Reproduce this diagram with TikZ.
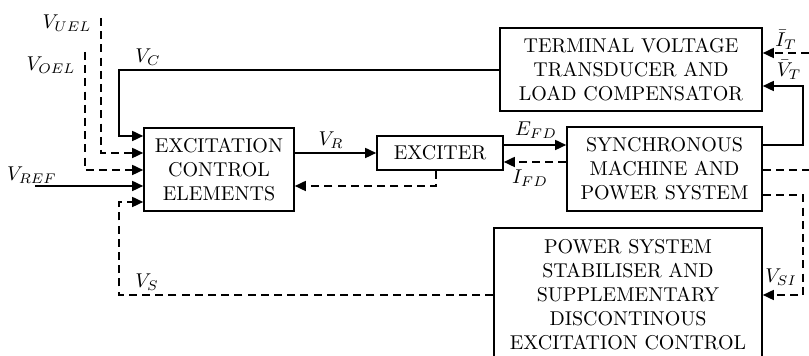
\documentclass[tikz,border=0pt]{standalone}
\usetikzlibrary{arrows.meta}
\begin{document}
\begin{tikzpicture}[x=0.5pt,y=-0.5pt,
  blk/.style={draw,line width=0.8pt,align=center,inner sep=0pt,font=\normalsize},
  sig/.style={line width=0.8pt},
  dsig/.style={line width=0.8pt,dash pattern=on 4pt off 2.6pt},
  tip/.style={-{Triangle[length=5.5pt,width=5pt]}},
  lbl/.style={inner sep=0pt}]
\useasboundingbox (0,0) rectangle (809,356);
% blocks
\node[blk,minimum width=75pt,minimum height=41.5pt] (ece) at (219,169.5) {EXCITATION\\CONTROL\\ELEMENTS};
\node[blk,minimum width=63pt,minimum height=17pt] (exc) at (440,153) {EXCITER};
\node[blk,minimum width=131pt,minimum height=41.5pt] (tvt) at (631,69.5) {TERMINAL VOLTAGE\\TRANSDUCER AND\\LOAD COMPENSATOR};
\node[blk,minimum width=97.5pt,minimum height=42pt] (sm) at (664.5,169) {SYNCHRONOUS\\MACHINE AND\\POWER SYSTEM};
\node[blk,minimum width=134pt,minimum height=67pt] (pss) at (628,295) {POWER SYSTEM\\STABILISER AND\\SUPPLEMENTARY\\DISCONTINOUS\\EXCITATION CONTROL};
% coordinates
\coordinate (uelT) at (101,18);
\coordinate (oelT) at (85,52);
\coordinate (refL) at (35,186);
\coordinate (itR) at (809,53);
\coordinate (smR2) at (809,170);
% V_C
\draw[sig,tip] (tvt.west |- 0,70) -| (119,136) -- (ece.west |- 0,136);
\node[lbl] (vc) at (148,57) {$V_C$};
% V_UEL
\draw[dsig,tip] (uelT) |- (ece.west |- 0,153);
\node[lbl] (vuel) at (67,23) {$V_{UEL}$};
% V_OEL
\draw[dsig,tip] (oelT) |- (ece.west |- 0,170);
\node[lbl] (voel) at (51,65) {$V_{OEL}$};
% V_REF
\draw[sig,tip] (refL) -- (ece.west |- 0,186);
\node[lbl] (vref) at (32,175) {$V_{REF}$};
% V_S
\draw[dsig,tip] (pss.west) -| (119,202) -- (ece.west |- 0,202);
\node[lbl] (vs) at (147,282) {$V_S$};
% V_R
\draw[sig,tip] (ece.east |- exc.west) -- (exc.west);
\node[lbl] (vr) at (331,140) {$V_R$};
% E_FD
\draw[sig,tip] (exc.east |- 0,145) -- (sm.west |- 0,145);
\node[lbl] (efd) at (536,130) {$E_{FD}$};
% I_FD
\draw[dsig,tip] (sm.west |- 0,162) -- (exc.east |- 0,162);
\node[lbl] (ifd) at (530,178) {$I_{FD}$};
% exciter feedback
\draw[dsig,tip] (exc.south -| 436,0) |- (ece.east |- 0,186);
% I_T
\draw[dsig,tip] (itR) -- (tvt.east |- itR);
\node[lbl] (it) at (786,40) {$\bar I_T$};
% V_T
\draw[sig,tip] (sm.east |- 0,145) -| (803,86) -- (tvt.east |- 0,86);
\node[lbl] (vt) at (789,70) {$\bar V_T$};
% SM dashed outputs
\draw[dsig] (sm.east |- smR2) -- (smR2);
\draw[dsig,tip] (sm.east |- 0,195) -| (803,295) -- (pss.east |- 0,295);
\node[lbl] (vsi) at (781,277) {$V_{SI}$};
\end{tikzpicture}
\end{document}
